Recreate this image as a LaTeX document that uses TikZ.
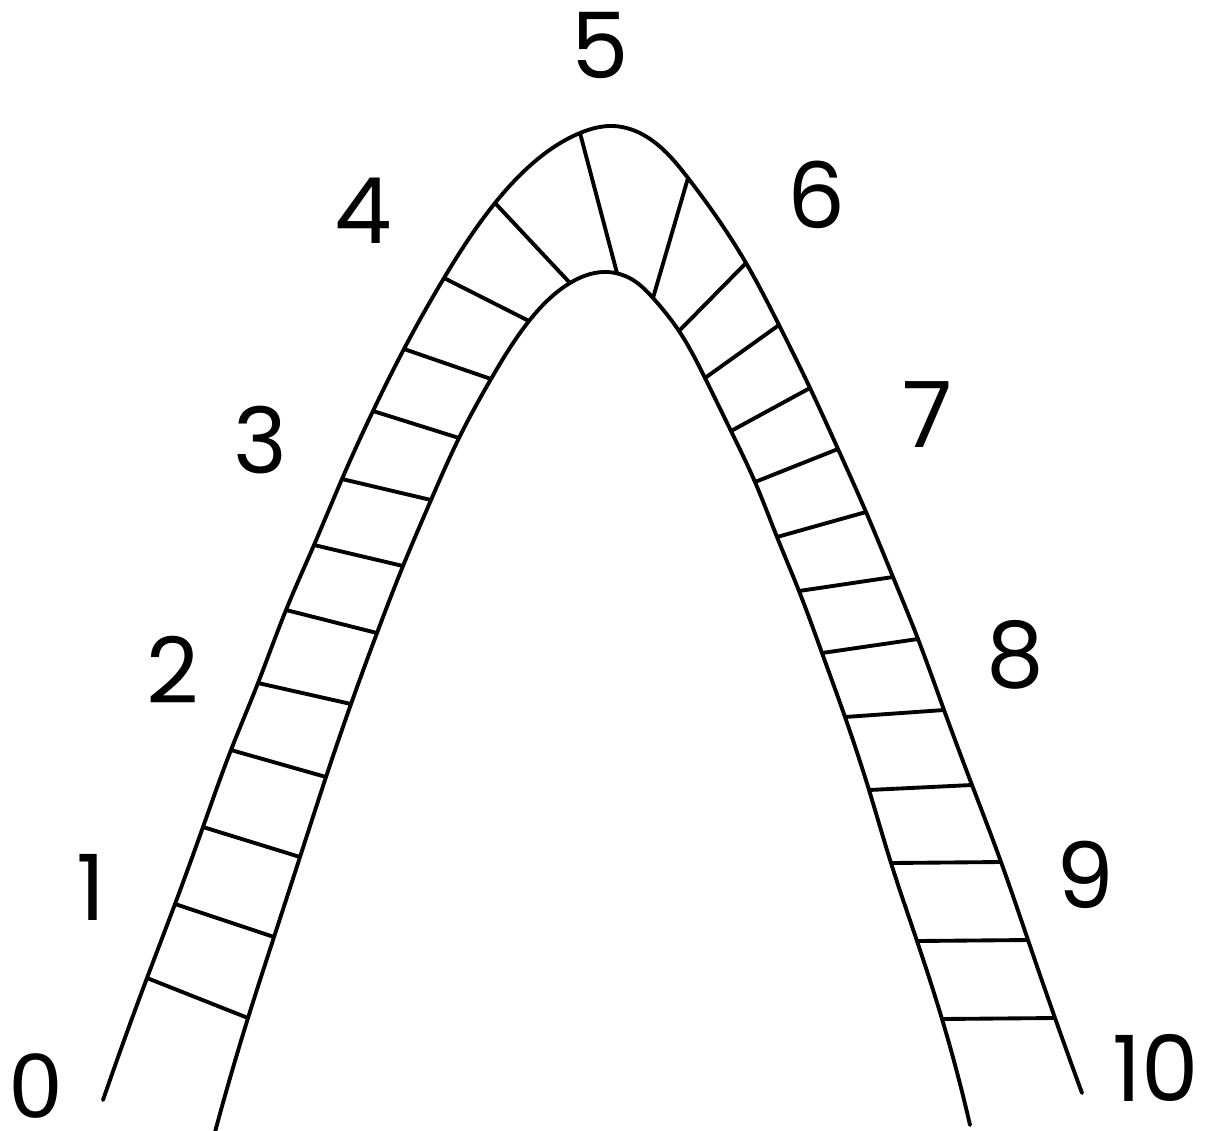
\documentclass[tikz,border=0pt]{standalone}
\usepackage{fontspec}
\setmainfont{Poppins}
\newfontfamily\zerofont{Liberation Sans}
\usepackage{tikz}
\usetikzlibrary{positioning, hobby}

\begin{document}
\begin{tikzpicture}[
    x=0.01cm, y=-0.01cm,
    rail/.style={line width=1.1pt, line cap=round, use Hobby shortcut},
    rung/.style={line width=1.1pt},
    num/.style={inner sep=0pt, font=\fontsize{26pt}{26pt}\selectfont}
]
\useasboundingbox (0,0) rectangle (1212,1130);

\coordinate (o0) at (103,1100);
\coordinate (oend) at (1082,1093);
\coordinate (i0) at (215,1132);
\coordinate (iend) at (970,1125);
\foreach \x/\y/\n in {533/163/b, 613/126/e, 647/137/g}
    \coordinate (o\n) at (\x,\y);
\foreach \x/\y/\n in {603/272/c, 633/280/d}
    \coordinate (i\n) at (\x,\y);
\foreach \xo/\yo/\xi/\yi [count=\k] in {
    147/978/248/1018, 175/904/274/937, 203/827/300/857, 231/750/326/777,
    258/683/351/704, 286/610/377/633, 314/545/403/566, 342/479/431/500,
    373/411/459/438, 404/349/491/379, 444/278/529/321, 495/203/570/283,
    580/133/617/273,
    688/178/653/298, 746/263/679/331, 779/325/705/378, 810/388/731/431,
    838/449/755/482, 866/512/777/537, 893/577/799/591, 918/639/822/653,
    944/710/845/717, 972/785/869/790, 1001/862/891/863, 1028/940/917/941,
    1055/1018/942/1019}
{
    \coordinate (o\k) at (\xo,\yo);
    \coordinate (i\k) at (\xi,\yi);
}

\draw[rail] (o0) .. (o1) .. (o2) .. (o3) .. (o4) .. (o5) .. (o6) .. (o7) .. (o8) .. (o9) .. (o10) .. (o11) .. (o12) .. (ob) .. (o13) .. (oe) .. (og) .. (o14) .. (o15) .. (o16) .. (o17) .. (o18) .. (o19) .. (o20) .. (o21) .. (o22) .. (o23) .. (o24) .. (o25) .. (o26) .. (oend);
\draw[rail] (i0) .. (i1) .. (i2) .. (i3) .. (i4) .. (i5) .. (i6) .. (i7) .. (i8) .. (i9) .. (i10) .. (i11) .. (i12) .. (ic) .. (id) .. (i14) .. (i15) .. (i16) .. (i17) .. (i18) .. (i19) .. (i20) .. (i21) .. (i22) .. (i23) .. (i24) .. (i25) .. (i26) .. (iend);

\foreach \k in {1,...,26}
    \draw[rung] (o\k) -- (i\k);

\node[num, font=\fontsize{26pt}{26pt}\selectfont\zerofont] (l0) at (36,1086) {0};
\node[num] (l1) at (91,887) {1};
\node[num] (l2) at (173,670) {2};
\node[num] (l3) at (260,440) {3};
\node[num] (l4) at (363,211) {4};
\node[num] (l5) at (600,45) {5};
\node[num] (l6) at (817,195) {6};
\node[num] (l7) at (927,415) {7};
\node[num] (l8) at (1015,655) {8};
\node[num] (l9) at (1085,875) {9};
\node[num] (l10) at (1156,1068) {10};
\end{tikzpicture}
\end{document}
